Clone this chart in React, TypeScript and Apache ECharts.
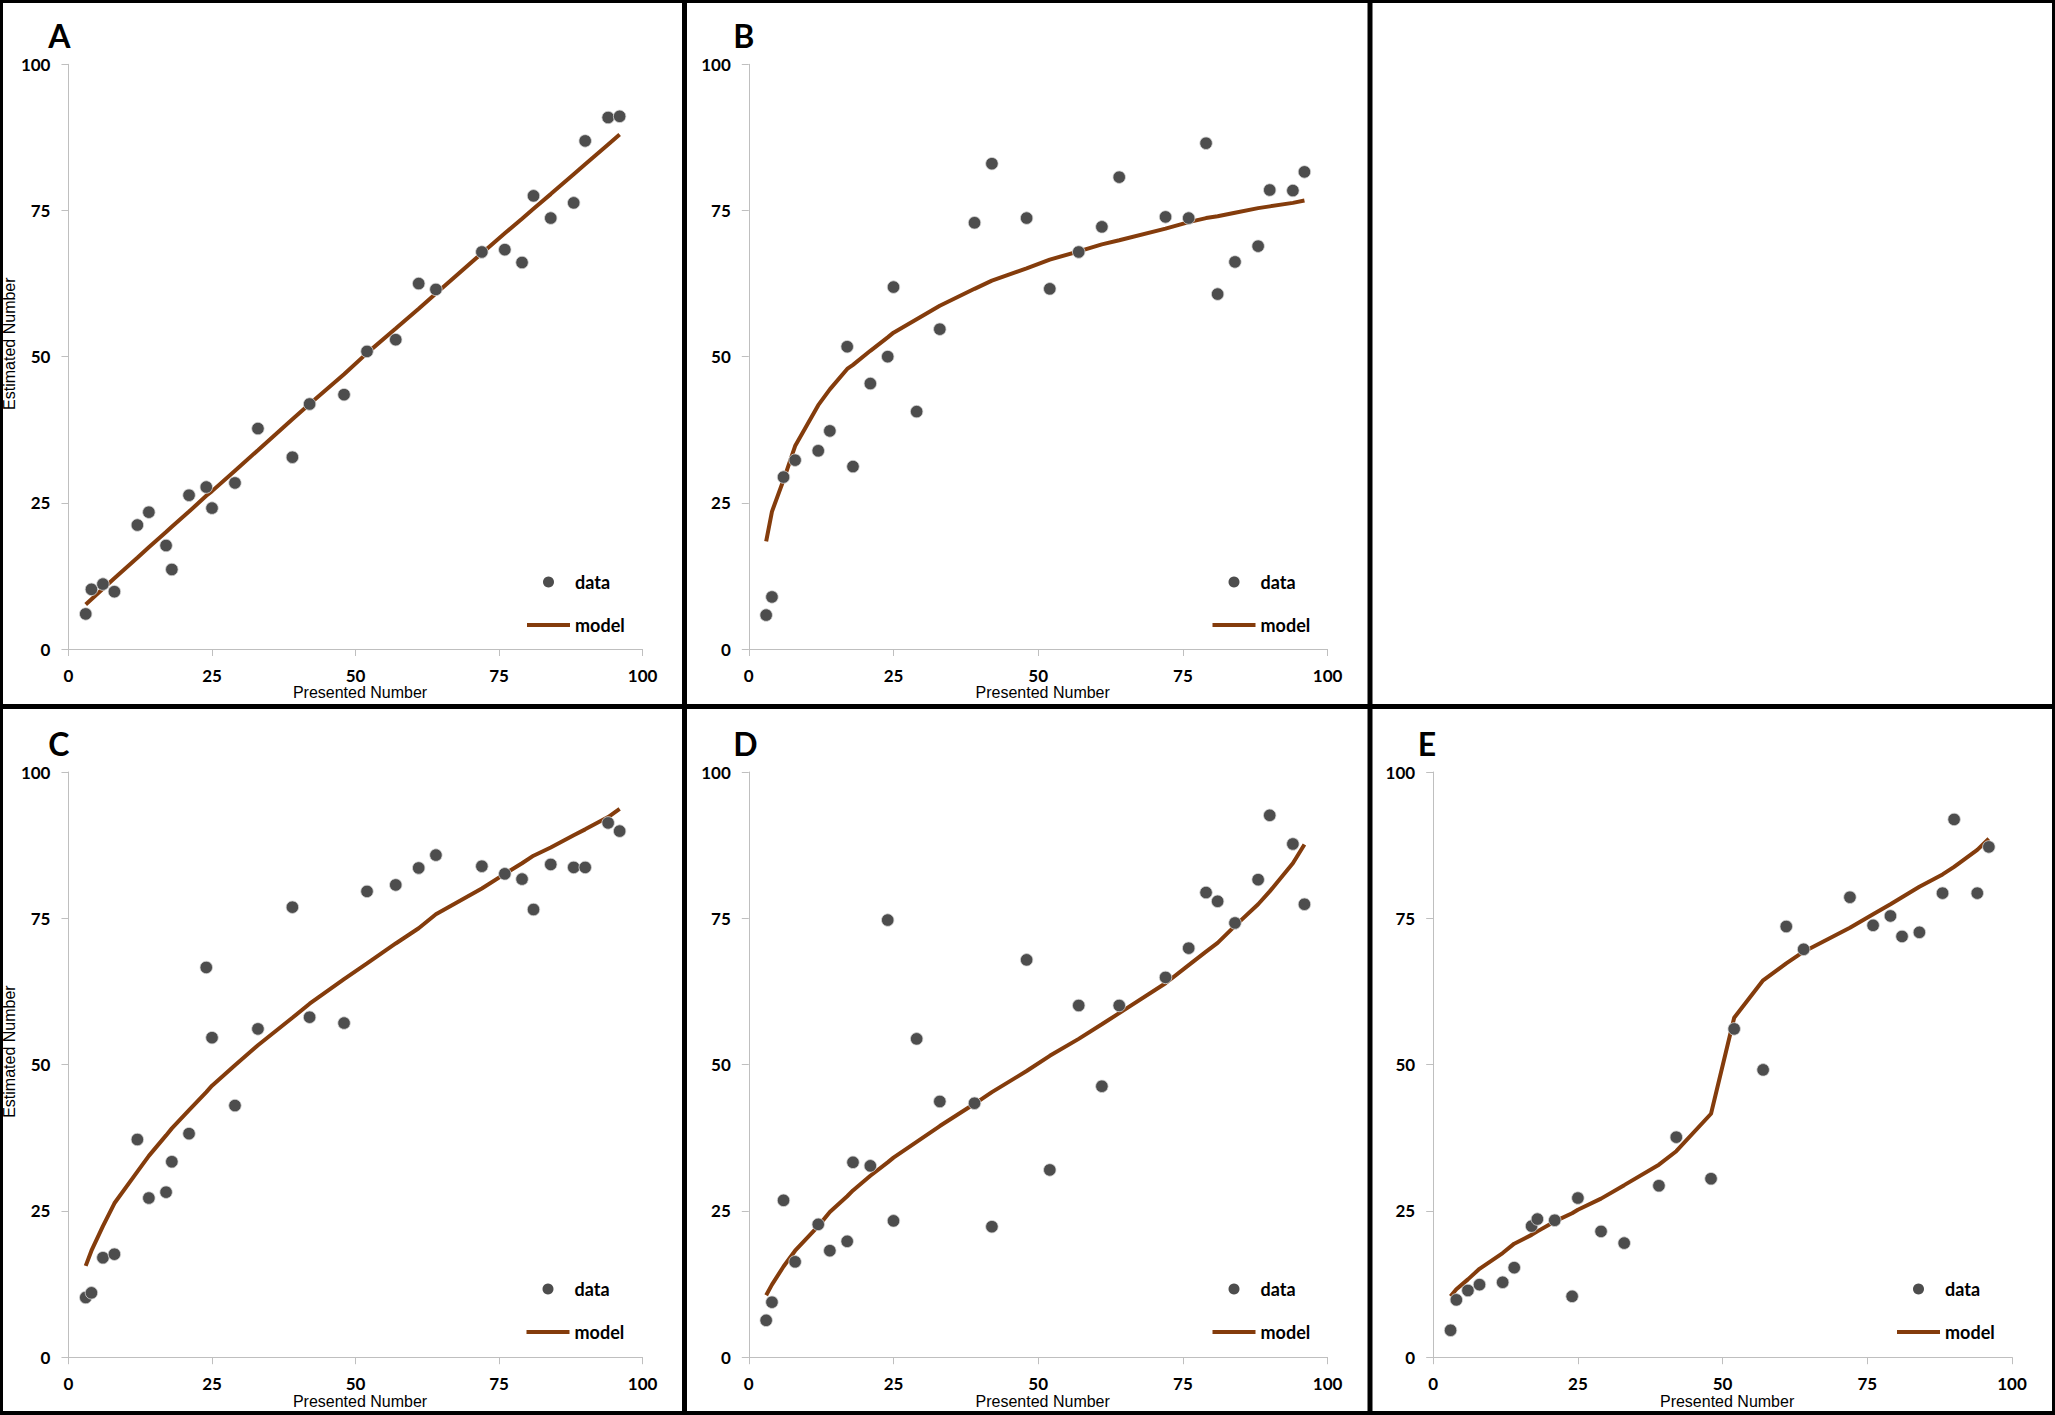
import React, { useEffect, useRef } from 'react';
import * as echarts from 'echarts';

// presented numbers (same for every panel)
const presented = [3, 4, 6, 8, 12, 14, 17, 18, 21, 24, 25, 29, 33, 39, 42, 48, 52, 57, 61, 64, 72, 76, 79, 81, 84, 88, 90, 94, 96];

const axisTicks = [0, 25, 50, 75, 100];

const aData = [6.0, 10.2, 11.1, 9.8, 21.2, 23.4, 17.7, 13.6, 26.3, 27.7, 24.1, 28.4, 37.7, 32.8, 41.9, 43.5, 50.9, 52.9, 62.5, 61.5, 67.9, 68.3, 66.1, 77.5, 73.7, 76.3, 86.9, 90.9, 91.1];
const aModel = [7.6, 8.5, 10.3, 12.1, 15.6, 17.4, 20.0, 20.9, 23.5, 26.2, 27.0, 30.5, 34.0, 39.3, 41.9, 47.0, 50.6, 54.8, 58.2, 60.8, 67.7, 71.1, 73.6, 75.3, 77.8, 81.2, 82.9, 86.3, 88.0];

const bData = [5.8, 8.9, 29.4, 32.3, 33.9, 37.3, 51.7, 31.2, 45.4, 50.0, 61.9, 40.6, 54.7, 72.9, 83.0, 73.7, 61.6, 67.9, 72.2, 80.7, 73.9, 73.7, 86.5, 60.7, 66.2, 68.9, 78.5, 78.4, 81.6];
const bModel = [18.4, 23.5, 28.9, 34.7, 41.7, 44.4, 47.9, 48.6, 51.0, 53.3, 54.1, 56.4, 58.7, 61.6, 63.0, 65.1, 66.6, 68.0, 69.2, 69.9, 71.9, 73.0, 73.7, 74.0, 74.6, 75.4, 75.7, 76.3, 76.7];

const cData = [10.2, 11.0, 17.0, 17.6, 37.2, 27.2, 28.2, 33.4, 38.2, 66.6, 54.6, 43.0, 56.1, 76.9, 58.1, 57.1, 79.6, 80.7, 83.6, 85.8, 83.9, 82.6, 81.7, 76.5, 84.2, 83.7, 83.7, 91.3, 89.9];
const cModel = [15.6, 18.2, 22.4, 26.3, 31.7, 34.4, 37.9, 39.1, 42.2, 45.3, 46.4, 49.9, 53.3, 58.0, 60.4, 64.6, 67.3, 70.7, 73.3, 75.7, 80.1, 82.6, 84.4, 85.7, 87.1, 89.2, 90.2, 92.3, 93.7];

const dData = [6.3, 9.4, 26.8, 16.3, 22.7, 18.2, 19.8, 33.3, 32.7, 74.7, 23.3, 54.4, 43.7, 43.4, 22.3, 67.9, 32.0, 60.1, 46.3, 60.1, 64.9, 69.9, 79.4, 77.9, 74.2, 81.6, 92.6, 87.7, 77.4];
const dModel = [10.6, 12.4, 15.5, 18.2, 22.4, 24.8, 27.5, 28.5, 31.0, 33.3, 34.1, 36.8, 39.5, 43.3, 45.3, 48.9, 51.5, 54.4, 56.9, 58.8, 63.9, 67.0, 69.3, 70.8, 73.7, 77.4, 79.6, 84.4, 87.6];

const eData = [4.6, 9.8, 11.4, 12.4, 12.8, 15.3, 22.4, 23.6, 23.4, 10.4, 27.2, 21.5, 19.5, 29.3, 37.6, 30.5, 56.1, 49.1, 73.6, 69.7, 78.6, 73.8, 75.4, 71.9, 72.6, 79.3, 91.9, 79.3, 87.2];
const eModel = [10.4, 11.6, 13.3, 15.1, 17.8, 19.4, 20.9, 21.5, 23.2, 24.6, 25.2, 27.1, 29.4, 32.9, 35.2, 41.6, 58.0, 64.4, 67.3, 69.3, 73.4, 75.7, 77.4, 78.6, 80.4, 82.5, 83.8, 86.7, 88.6];

const DOT = '#4d4d4d';
const MODEL = '#843c0c';
const AXIS = '#bfbfbf';

const panels = [
    { letter: 'A', data: aData, model: aModel, left: 63.8, top: 64.3, height: 584.7, yName: true, legendLeft: 525, legendTop: 573 },
    { letter: 'B', data: bData, model: bModel, left: 748.8, top: 64.3, height: 584.7, yName: false, legendLeft: 1210.5, legendTop: 573 },
    { letter: 'C', data: cData, model: cModel, left: 63.8, top: 772, height: 585.2, yName: true, legendLeft: 524.5, legendTop: 1280 },
    { letter: 'D', data: dData, model: dModel, left: 748.8, top: 772, height: 585.2, yName: false, legendLeft: 1210.5, legendTop: 1280 },
    { letter: 'E', data: eData, model: eModel, left: 1433.2, top: 772, height: 585.2, yName: false, legendLeft: 1895, legendTop: 1280 },
];

const tickLabel = { fontFamily: 'Lato', fontWeight: 'bold', fontSize: 17, color: '#000' };

const borders = [
    { x: 0, y: 0, width: 2055, height: 3 },
    { x: 0, y: 1411, width: 2055, height: 4 },
    { x: 0, y: 0, width: 3, height: 1415 },
    { x: 2052, y: 0, width: 3, height: 1415 },
    { x: 682, y: 0, width: 5, height: 1415 },
    { x: 1367.5, y: 0, width: 5, height: 1415 },
    { x: 0, y: 704, width: 2055, height: 5 },
];

const buildOptions = () => {
    const axisBase = {
        type: 'value',
        min: axisTicks[0],
        max: axisTicks[axisTicks.length - 1],
        interval: axisTicks[1] - axisTicks[0],
        axisLine: { show: true, lineStyle: { color: AXIS, width: 1 } },
        axisTick: { show: true, length: 7, lineStyle: { color: AXIS, width: 1 } },
        splitLine: { show: false },
    };
    return {
        animation: false,
        backgroundColor: '#fff',
        grid: panels.map(p => ({ left: p.left, top: p.top, width: 578.8, height: p.height })),
        xAxis: panels.map((p, i) => ({
            ...axisBase,
            gridIndex: i,
            name: 'Presented Number',
            nameLocation: 'middle',
            nameGap: 35,
            nameTextStyle: { fontFamily: 'Liberation Sans', fontSize: 16, color: '#000', padding: [0, 0, 0, 9] },
            axisLabel: { ...tickLabel, margin: 18 },
        })),
        yAxis: panels.map((p, i) => ({
            ...axisBase,
            gridIndex: i,
            name: p.yName ? 'Estimated Number' : '',
            nameLocation: 'middle',
            nameGap: 40,
            nameTextStyle: { fontFamily: 'Liberation Sans', fontSize: 16, color: '#000', padding: [0, 0, 0, 26] },
            axisLabel: { ...tickLabel, margin: 18 },
        })),
        legend: panels.map(p => ({
            orient: 'vertical',
            left: p.legendLeft,
            top: p.legendTop,
            padding: 0,
            itemWidth: 43,
            itemHeight: 11,
            itemGap: 25,
            selectedMode: false,
            lineStyle: { width: 4 },
            textStyle: { fontFamily: 'Lato', fontWeight: 'bold', fontSize: 18, lineHeight: 18, color: '#000' },
            data: [
                { name: 'data', icon: 'circle', itemStyle: { borderWidth: 0 } },
                { name: 'model', itemStyle: { opacity: 0 } },
            ],
        })),
        series: panels.flatMap((p, i) => [
            {
                name: 'model',
                type: 'line',
                xAxisIndex: i,
                yAxisIndex: i,
                data: presented.map((x, j) => [x, p.model[j]]),
                symbol: 'none',
                smooth: false,
                lineStyle: { color: MODEL, width: 4 },
                itemStyle: { color: MODEL },
                z: 2,
            },
            {
                name: 'data',
                type: 'scatter',
                xAxisIndex: i,
                yAxisIndex: i,
                data: presented.map((x, j) => [x, p.data[j]]),
                symbolSize: 12.5,
                itemStyle: { color: DOT, borderColor: '#d9d9d9', borderWidth: 0.8, opacity: 1 },
                z: 3,
            },
        ]),
        graphic: [
            ...borders.map(b => ({ type: 'rect', shape: b, style: { fill: '#000' }, z: 10 })),
            ...panels.map(p => ({
                type: 'text',
                x: p.left - 15.5,
                y: p.top - 28.5,
                style: {
                    text: p.letter,
                    font: 'bold 32px Lato',
                    fill: '#000',
                    textAlign: 'left',
                    textVerticalAlign: 'middle',
                },
            })),
        ],
    };
};

const App: React.FC = () => {
    const chartRef = useRef<HTMLDivElement>(null);

    useEffect(() => {
        if (!chartRef.current) return;
        const chart = echarts.init(chartRef.current, undefined, { renderer: 'svg' });
        chart.setOption(buildOptions() as any);
        return () => {
            chart.dispose();
        };
    }, []);

    return (
        <div style={{ position: 'absolute', left: 0, top: 0, width: 2055, height: 1415, background: '#fff' }}>
            <div ref={chartRef} style={{ width: 2055, height: 1415 }} />
        </div>
    );
};

export default App;
